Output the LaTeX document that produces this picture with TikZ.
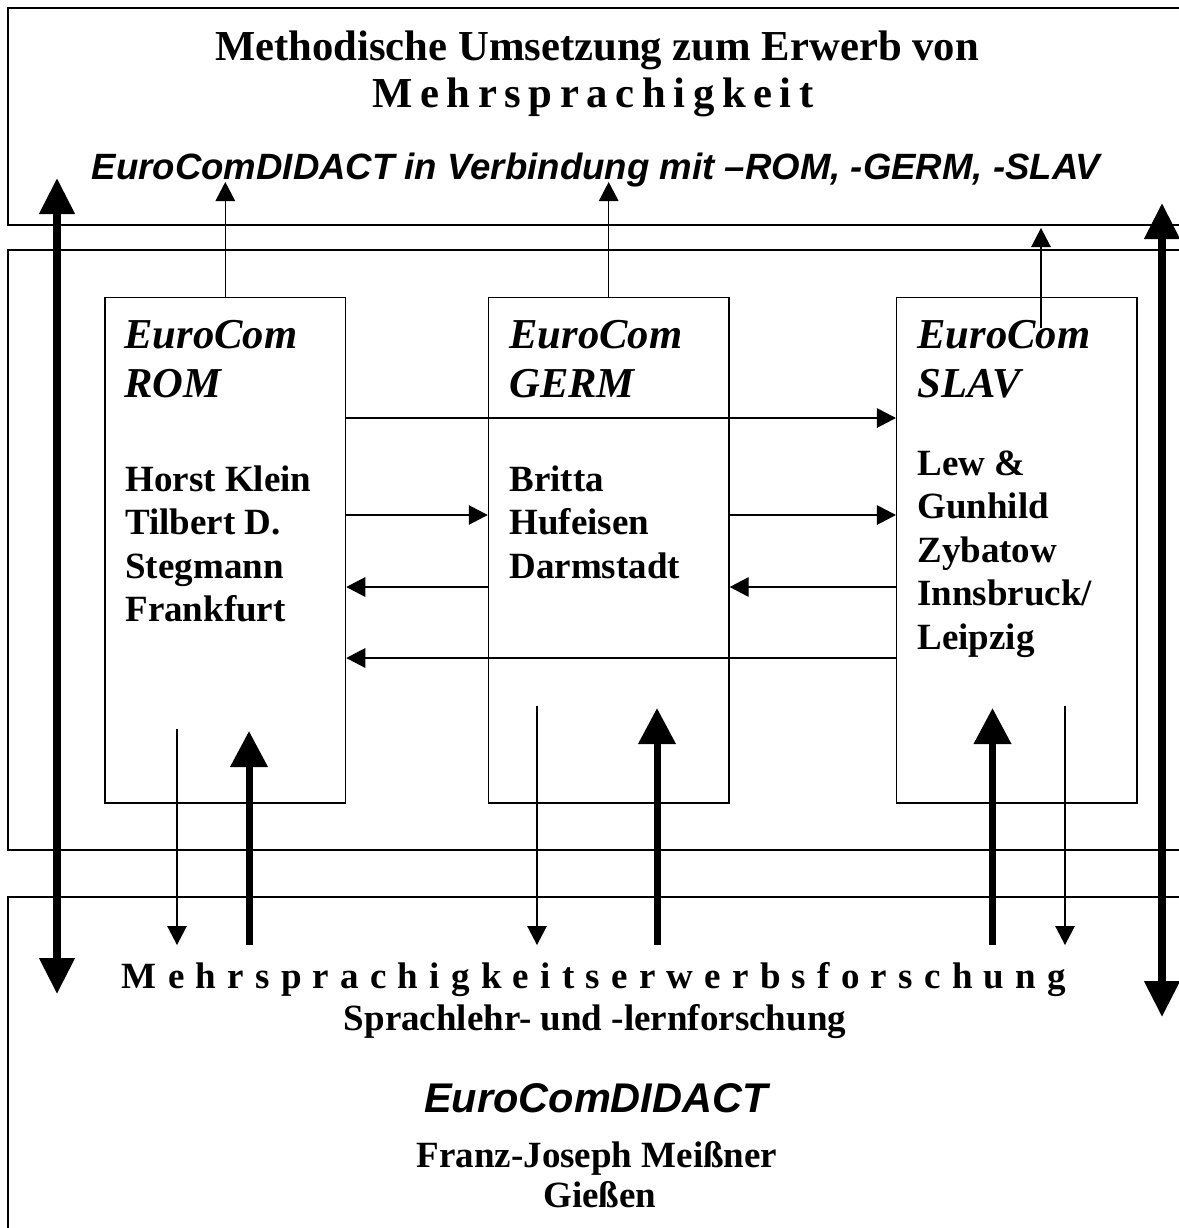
\documentclass[tikz,border=0pt]{standalone}
\usepackage{fontspec}
\setmainfont{Liberation Serif}
\newfontfamily\arialfont{Liberation Sans}
\usetikzlibrary{arrows.meta}

% spread the letters of one word by a fixed gap
\makeatletter
\newcommand\spreadword[2]{\def\sw@gap{#1}\sw@first#2\relax}
\def\sw@first#1{#1\sw@loop}
\def\sw@loop#1{\ifx#1\relax\else\kern\sw@gap#1\expandafter\sw@loop\fi}
\makeatother

\begin{document}
\begin{tikzpicture}[
    x=0.5pt, y=-0.5pt,
    >={Triangle[length=9.5pt,width=9.75pt]},
    panel/.style={line width=0.75pt},
    langbox/.style={draw, line width=0.7pt, minimum width=120.25pt,
                    minimum height=252.65pt, inner sep=0pt},
    headtxt/.style={anchor=north west, inner sep=0pt, align=left,
                    font=\bfseries\itshape\fontsize{21.3}{24.5}\selectfont},
    nametxt/.style={anchor=north west, inner sep=0pt, align=left,
                    font=\bfseries\fontsize{18.5}{21.75}\selectfont},
    bigtxt/.style={anchor=base, inner sep=0pt,
                   font=\bfseries\fontsize{21.35}{24}\selectfont},
    midtxt/.style={anchor=base, inner sep=0pt,
                   font=\bfseries\fontsize{18.5}{21.75}\selectfont},
    sanstxt/.style={anchor=base, inner sep=0pt,
                    font=\arialfont\bfseries\itshape\fontsize{18.3}{22}\selectfont},
    thinflow/.style={->, line width=0.65pt},
    thickflow/.style={-{Triangle[length=18pt,width=18pt]}, line width=3.5pt},
    twoway/.style={{Triangle[length=18pt,width=17pt]}-{Triangle[length=18pt,width=17pt]},
                   line width=3.7pt},
]
\clip (0,0) rectangle (1179,1228);

% --- the three panels (run off the right edge) ---
\draw[panel] (8,8) rectangle (1200,225);
\draw[panel] (8,250) rectangle (1200,850);
\draw[panel] (8,897) rectangle (1200,1240);

% --- top panel ---
\node[bigtxt] (title) at (597,60) {Methodische Umsetzung zum Erwerb von};
\node[bigtxt] (titlemore) at (593,107) {\spreadword{3.8pt}{Mehrsprachigkeit}};
\node[sanstxt] (combine) at (596,179)
  {EuroComDIDACT in Verbindung mit –ROM, -GERM, -SLAV};

% --- the three EuroCom boxes ---
\node[langbox] (rom)  at (225.3,550.3) {};
\node[langbox] (germ) at (608.7,550.3) {};
\node[langbox] (slav) at (1016.9,550.3) {};

\node[headtxt] (romhead) at (124,320) {EuroCom\\ROM};
\node[nametxt] (romnames) at (125,465)
  {Horst Klein\\Tilbert D.\\Stegmann\\Frankfurt};
\node[headtxt] (germhead) at (509,320) {EuroCom\\GERM};
\node[nametxt] (germnames) at (509,465) {Britta\\Hufeisen\\Darmstadt};
\node[headtxt] (slavhead) at (917,320) {EuroCom\\SLAV};
\node[nametxt] (slavnames) at (917,450)
  {Lew \&\\Gunhild\\Zybatow\\Innsbruck/\\Leipzig};

% --- bottom panel ---
\node[midtxt] (research) at (594,988)
  {\spreadword{5.63pt}{Mehrsprachigkeitserwerbsforschung}};
\node[midtxt] (teaching) at (595,1030) {Sprachlehr- und -lernforschung};
\node[sanstxt, font=\arialfont\bfseries\itshape\fontsize{20.75}{24}\selectfont]
  (didact) at (596,1112) {EuroComDIDACT};
\node[midtxt] (person) at (597,1167) {Franz-Joseph Meißner};
\node[midtxt] (place) at (600,1207) {Gießen};

% --- levels and free ends ---
\coordinate (tiplevel) at (0,182);
\coordinate (row1) at (0,418);
\coordinate (row2) at (0,515);
\coordinate (row3) at (0,587);
\coordinate (row4) at (0,658);
\coordinate (base) at (0,945);
\coordinate (slavstart) at (1041,328);
\coordinate (slavtip)   at (1041,228);
\coordinate (romdown)  at (177,729);
\coordinate (romup)    at (249,731);
\coordinate (germdown) at (537,706);
\coordinate (germup)   at (657,708);
\coordinate (slavup)   at (992.5,708);
\coordinate (slavdown) at (1065,706);
\coordinate (lefttop)  at (57,178);
\coordinate (leftbot)  at (57,994);
\coordinate (righttop) at (1162,203);
\coordinate (rightbot) at (1162,1017);

% --- up into the top panel ---
\draw[thinflow] (rom.north) -- (rom.north |- tiplevel);
\draw[thinflow] (germ.north) -- (germ.north |- tiplevel);
\draw[thinflow] (slavstart) -- (slavtip);

% --- between the boxes ---
\draw[thinflow] (rom.east |- row1) -- (slav.west |- row1);
\draw[thinflow] (rom.east |- row2) -- (germ.west |- row2);
\draw[thinflow] (germ.east |- row2) -- (slav.west |- row2);
\draw[thinflow] (germ.west |- row3) -- (rom.east |- row3);
\draw[thinflow] (slav.west |- row3) -- (germ.east |- row3);
\draw[thinflow] (slav.west |- row4) -- (rom.east |- row4);

% --- down to and up from the research panel ---
\draw[thinflow] (romdown) -- (romdown |- base);
\draw[thickflow] (romup |- base) -- (romup);
\draw[thinflow] (germdown) -- (germdown |- base);
\draw[thickflow] (germup |- base) -- (germup);
\draw[thickflow] (slavup |- base) -- (slavup);
\draw[thinflow] (slavdown) -- (slavdown |- base);

% --- the two long double arrows ---
\draw[twoway] (lefttop) -- (leftbot);
\draw[twoway] (righttop) -- (rightbot);
\end{tikzpicture}
\end{document}
